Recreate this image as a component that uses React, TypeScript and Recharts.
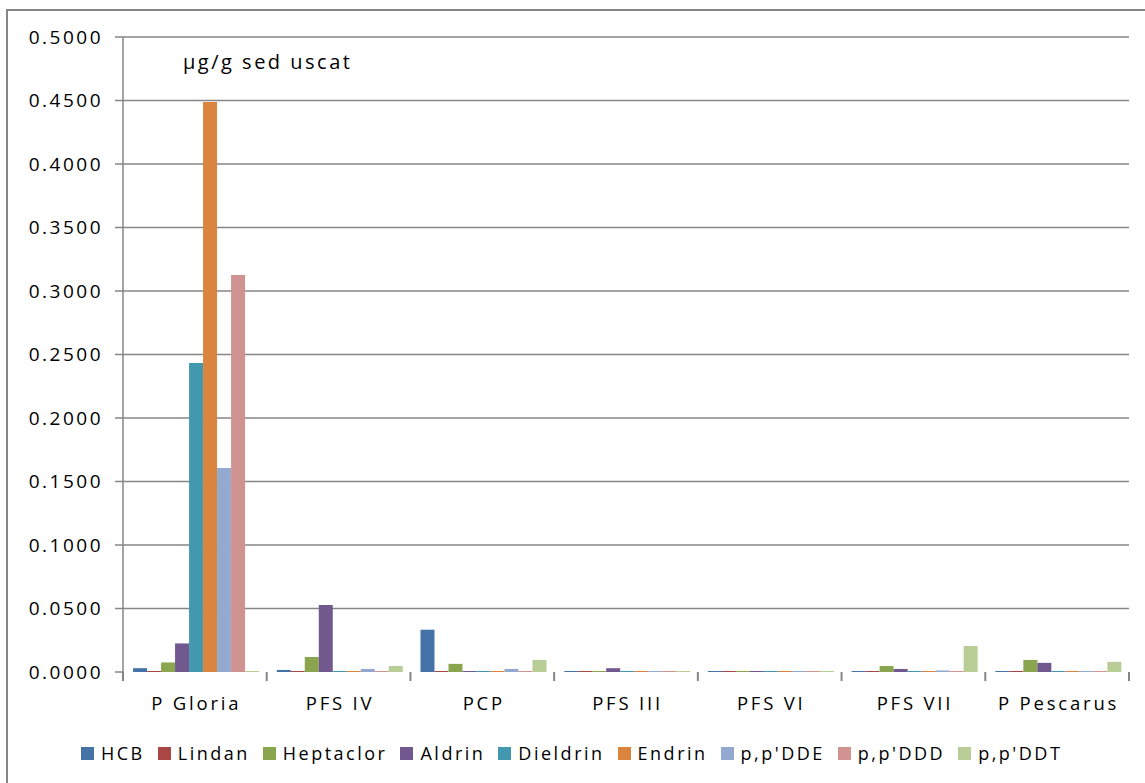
import { BarChart, Bar, XAxis, YAxis, Legend, CartesianGrid } from 'recharts'

// sampling sites along the x axis
const sites = ['P Gloria', 'PFS IV', 'PCP', 'PFS III', 'PFS VI', 'PFS VII', 'P Pescarus']

// µg/g dry sediment
const hcb = [0.0030, 0.0016, 0.0333, 0.0008, 0.0008, 0.0008, 0.0008]
const lindan = [0.0008, 0.0008, 0.0008, 0.0008, 0.0008, 0.0008, 0.0008]
const heptaclor = [0.0075, 0.0118, 0.0064, 0.0008, 0.0008, 0.0047, 0.0095]
const aldrin = [0.0225, 0.0528, 0.0008, 0.0030, 0.0008, 0.0024, 0.0072]
const dieldrin = [0.2433, 0.0008, 0.0008, 0.0008, 0.0008, 0.0008, 0.0008]
const endrin = [0.4488, 0.0008, 0.0008, 0.0008, 0.0008, 0.0008, 0.0008]
const dde = [0.1606, 0.0024, 0.0024, 0.0008, 0.0008, 0.0012, 0.0008]
const ddd = [0.3126, 0.0008, 0.0008, 0.0008, 0.0008, 0.0008, 0.0008]
const ddt = [0.0008, 0.0047, 0.0095, 0.0008, 0.0008, 0.0205, 0.0080]

const yTicks = [0, 0.05, 0.1, 0.15, 0.2, 0.25, 0.3, 0.35, 0.4, 0.45, 0.5]

const series = [
  { key: 'hcb', name: 'HCB', values: hcb, color: '#4572A7' },
  { key: 'lindan', name: 'Lindan', values: lindan, color: '#AA4643' },
  { key: 'heptaclor', name: 'Heptaclor', values: heptaclor, color: '#89A54E' },
  { key: 'aldrin', name: 'Aldrin', values: aldrin, color: '#71588F' },
  { key: 'dieldrin', name: 'Dieldrin', values: dieldrin, color: '#4198AF' },
  { key: 'endrin', name: 'Endrin', values: endrin, color: '#DB843D' },
  { key: 'dde', name: "p,p'DDE", values: dde, color: '#93A9CF' },
  { key: 'ddd', name: "p,p'DDD", values: ddd, color: '#D19392' },
  { key: 'ddt', name: "p,p'DDT", values: ddt, color: '#B9CD96' },
]

const data = sites.map((site, i) => {
  const row: Record<string, string | number> = { site }
  series.forEach(s => { row[s.key] = s.values[i] })
  return row
})

const W = 1145
const H = 783
const MARGIN = { top: 37, right: 16, left: 8, bottom: 71 }
const Y_W = 115
const BAND = (W - MARGIN.left - Y_W - MARGIN.right) / sites.length
const AXIS = '#868686'
const FONT = '"Open Sans", "Noto Sans", sans-serif'

function SiteTick({ x, y, payload, index }: any) {
  const left = x - BAND / 2
  const right = x + BAND / 2
  return (
    <g>
      <line x1={left} x2={left} y1={y} y2={y + 9} stroke={AXIS} strokeWidth={2} />
      {index === sites.length - 1 && (
        <line x1={right} x2={right} y1={y} y2={y + 9} stroke={AXIS} strokeWidth={2} />
      )}
      <text
        x={x + 1.5}
        y={y + 38}
        textAnchor="middle"
        fontSize={18.5}
        fontFamily={FONT}
        letterSpacing={2.8}
        fill="#000"
      >
        {payload.value}
      </text>
    </g>
  )
}

// keep the legend in series order (Recharts sorts its payload by name)
function LegendRow() {
  return (
    <div style={{ display: 'flex', alignItems: 'center', paddingLeft: 81, fontFamily: FONT }}>
      {series.map(s => (
        <div key={s.key} style={{ display: 'flex', alignItems: 'center', marginRight: 13 }}>
          <span style={{ width: 13, height: 13, background: s.color, marginRight: 7, display: 'inline-block' }} />
          <span style={{ fontSize: 18, letterSpacing: 2.5, color: '#000', lineHeight: '18px' }}>{s.name}</span>
        </div>
      ))}
    </div>
  )
}

export default function App() {
  return (
    <div style={{ position: 'fixed', left: 0, top: 0, width: W, height: H, overflow: 'hidden', background: '#fff' }}>
      <div
        style={{
          position: 'absolute', left: 6, top: 9, width: W + 40, height: H + 40,
          border: `2px solid ${AXIS}`, boxSizing: 'border-box',
        }}
      />
      <div style={{ position: 'absolute', left: 0, top: 0 }}>
        <BarChart width={W} height={H} data={data} margin={MARGIN} barCategoryGap="7%" barGap={0}>
          <CartesianGrid
            vertical={false}
            stroke={AXIS}
            strokeWidth={1.5}
            horizontalValues={yTicks.filter(v => v > 0)}
          />
          <XAxis
            dataKey="site"
            axisLine={false}
            tickLine={false}
            tickSize={0}
            tickMargin={0}
            interval={0}
            height={40}
            tick={<SiteTick />}
          />
          <YAxis
            width={Y_W}
            domain={[0, 0.5]}
            ticks={yTicks}
            tickFormatter={(v: number) => v.toFixed(4)}
            axisLine={{ stroke: AXIS, strokeWidth: 1.5 }}
            tickLine={{ stroke: AXIS, strokeWidth: 1.5 }}
            tickSize={8}
            tickMargin={12}
            tick={{ fontSize: 19, fill: '#000', fontFamily: FONT, letterSpacing: 2.5 } as any}
          />
          <Legend
            layout="horizontal"
            verticalAlign="middle"
            align="center"
            wrapperStyle={{ top: 744, left: 0, width: W }}
            content={<LegendRow />}
          />
          {series.map(s => (
            <Bar key={s.key} dataKey={s.key} name={s.name} fill={s.color} isAnimationActive={false} />
          ))}
        </BarChart>
      </div>
      <div
        style={{
          position: 'absolute', left: 183, top: 49, fontFamily: FONT, fontSize: 20,
          letterSpacing: 2.5, color: '#000', lineHeight: '26px',
        }}
      >
        μg/g sed uscat
      </div>
    </div>
  )
}
